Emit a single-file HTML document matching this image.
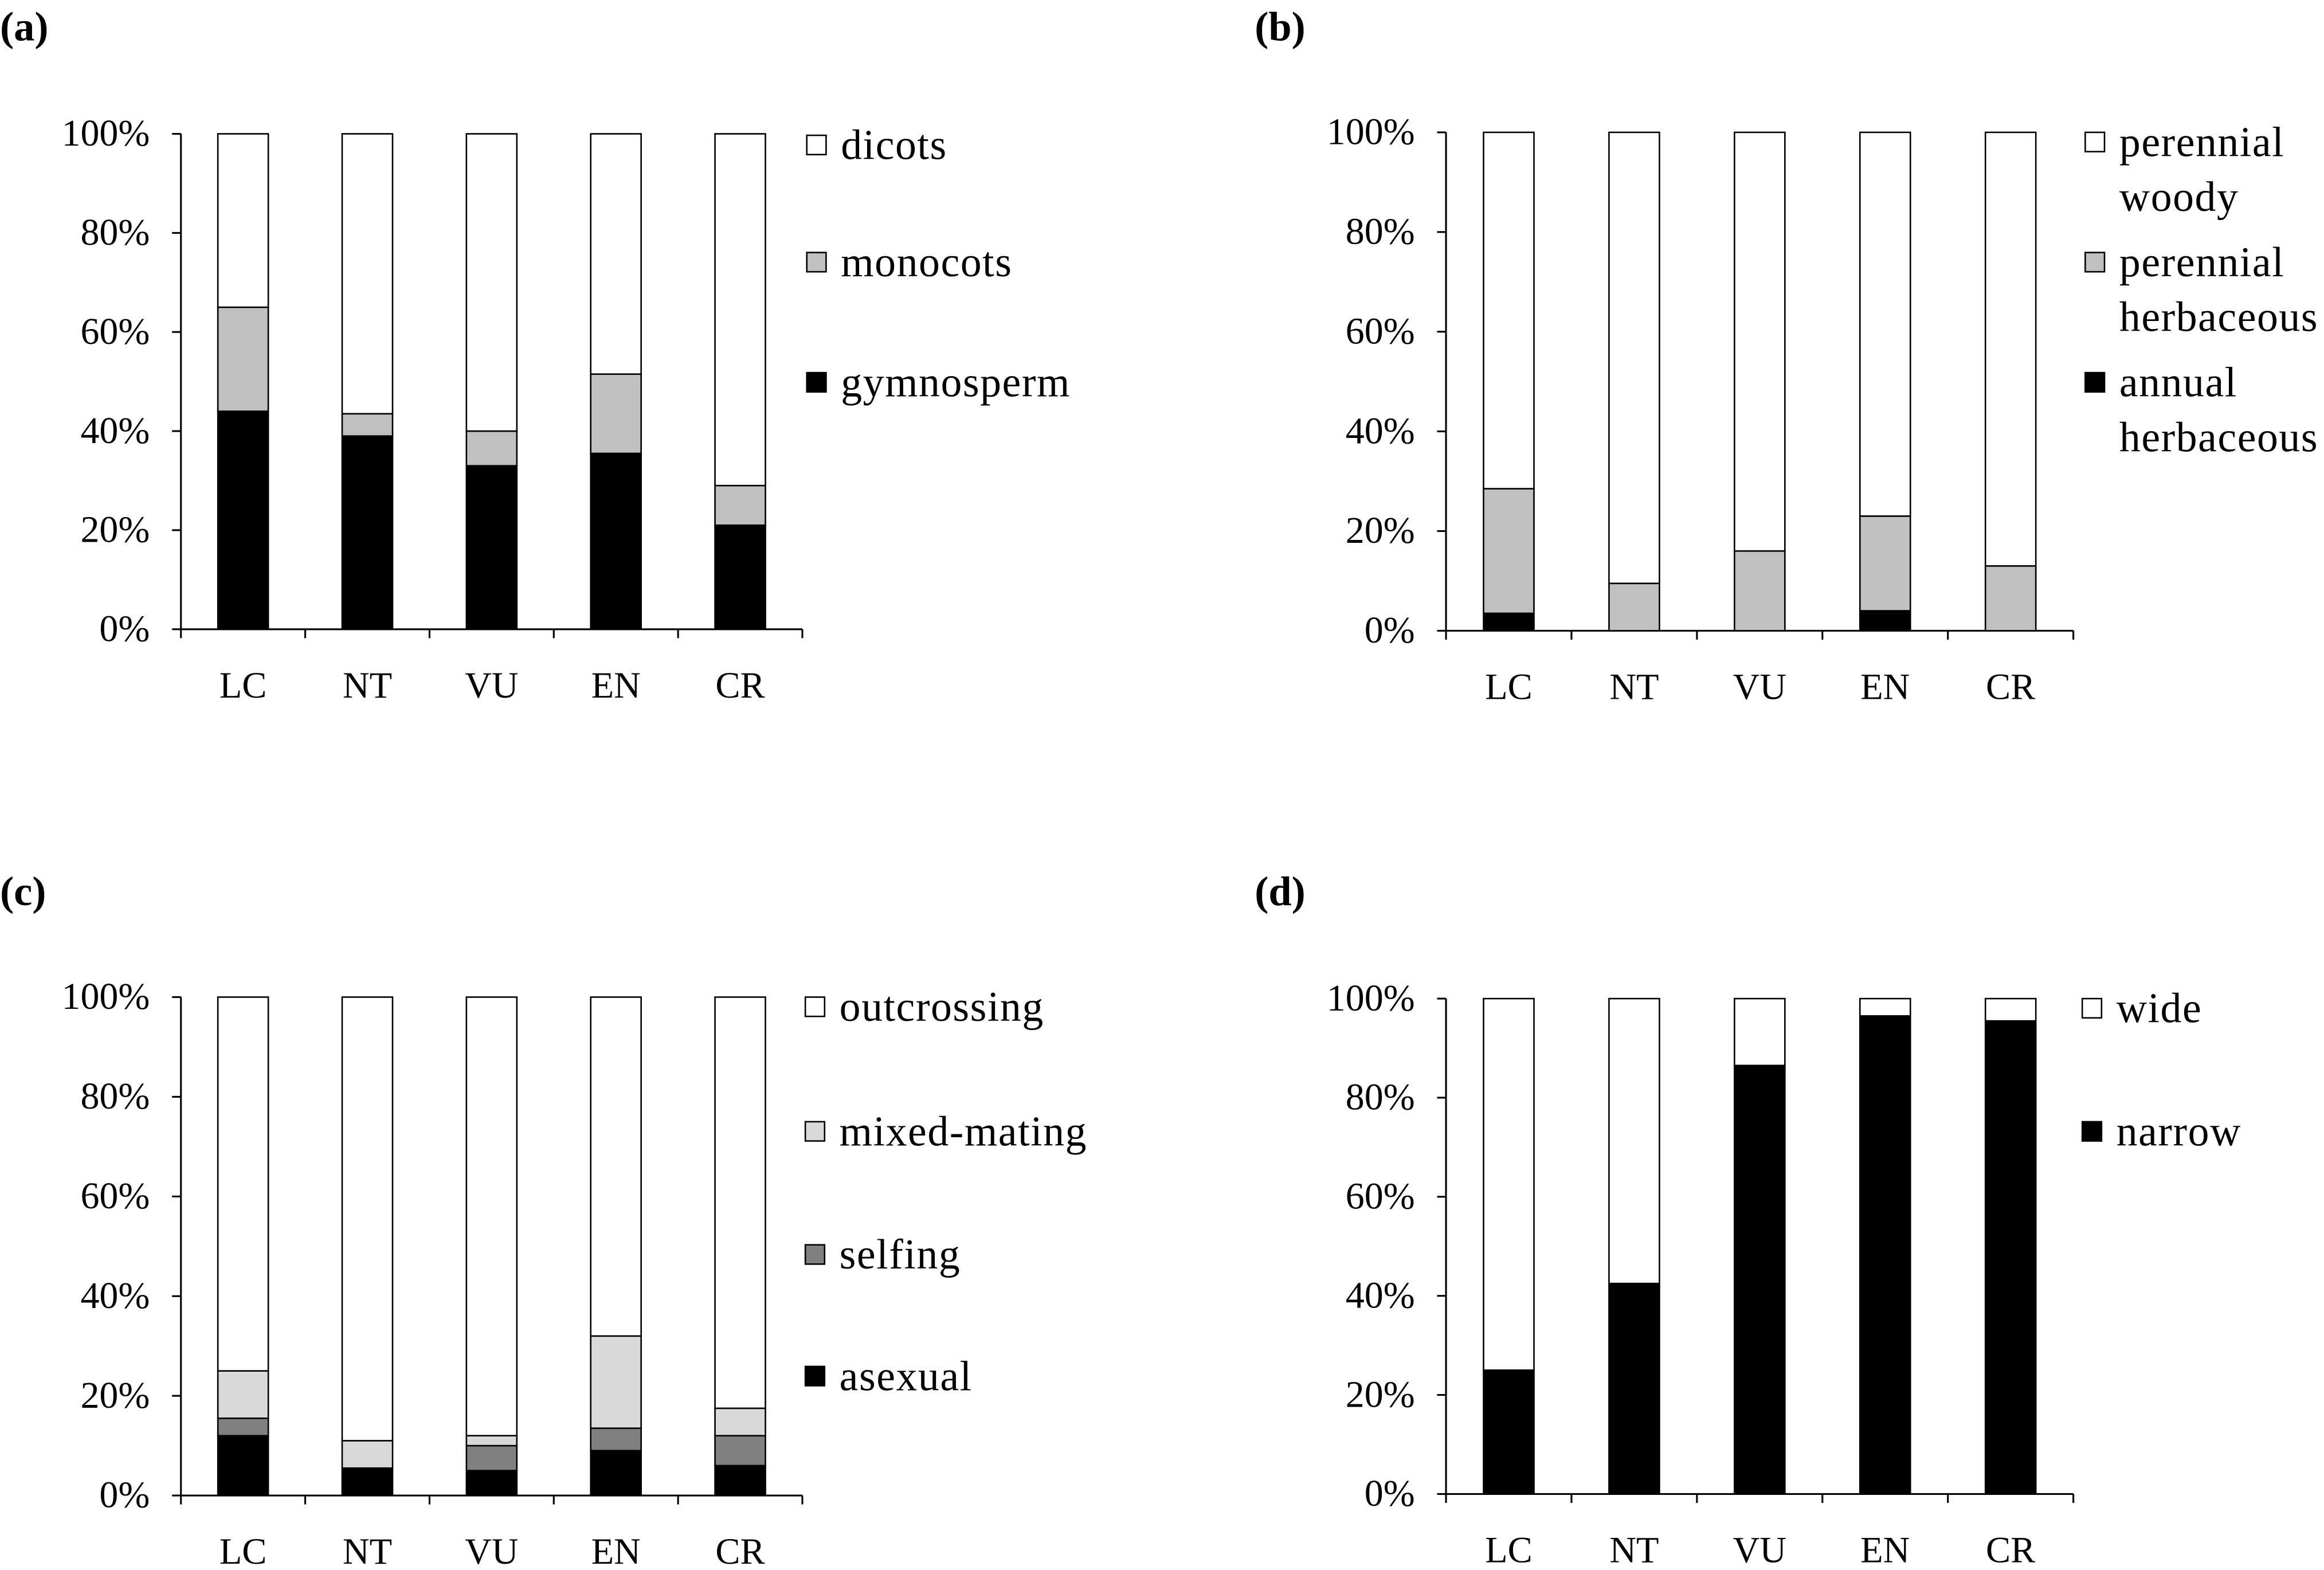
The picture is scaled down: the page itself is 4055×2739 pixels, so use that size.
<!DOCTYPE html>
<html><head><meta charset="utf-8"><style>
html,body{margin:0;padding:0;background:#fff}
svg{display:block}
text{font-family:"Liberation Serif",serif;fill:#000}
</style></head><body>
<svg id="chart" width="4055" height="2739" viewBox="0 0 1567 1058" xmlns="http://www.w3.org/2000/svg"></svg>
<script>
const categories = ["LC","NT","VU","EN","CR"];
const ticks = ["0%","20%","40%","60%","80%","100%"];
// panel a (bottom to top): gymnosperm, monocots
const aGymno = [44, 39, 33, 35.5, 21];
const aMono = [21, 4.5, 7, 16, 8];
// panel b: annual herbaceous, perennial herbaceous
const bAnnual = [3.5, 0, 0, 4, 0];
const bPerHerb = [25, 9.5, 16, 19, 13];
// panel c: asexual, selfing, mixed-mating
const cAsexual = [12, 5.5, 5, 9, 6];
const cSelfing = [3.5, 0, 5, 4.5, 6];
const cMixed = [9.5, 5.5, 2, 18.5, 5.5];
// panel d: narrow
const dNarrow = [25, 42.5, 86.5, 96.5, 95.5];

const svg = document.getElementById('chart');
const NS = "http://www.w3.org/2000/svg";
function mk(tag, attrs, parent){
  const e = document.createElementNS(NS, tag);
  for (const k in attrs) e.setAttribute(k, attrs[k]);
  (parent||svg).appendChild(e);
  return e;
}
function panel(p){
  const g = mk('g', {});
  
  
  const x0 = p.x0, y0 = p.y0, y100 = p.y100, x1 = x0 + p.w;
  const ys = v => y0 - (y0 - y100) * v / 100;
  const step = (x1 - x0) / categories.length;
  const lbl = mk('text', {x: p.lx, y: p.ly, 'font-size': 28, 'font-weight': 'bold'}, g);
  lbl.textContent = '(' + p.id + ')';
  
  
  const ya = mk('line', {x1: x0, y1: y100, x2: x0, y2: y0, stroke: '#000', 'stroke-width': 1.2}, g);
  
  
  const xa = mk('line', {x1: x0, y1: y0, x2: x1, y2: y0, stroke: '#000', 'stroke-width': 1.2}, g);
  
  
  ticks.forEach((t, i) => {
    const y = ys(i * 20);
    mk('line', {x1: x0 - 6, y1: y, x2: x0, y2: y, stroke: '#000', 'stroke-width': 1.2}, g);
    const tx = mk('text', {x: x0 - 21, y: y + 8, 'font-size': 25.5, 'text-anchor': 'end'}, g);
    tx.textContent = t;
    
    
  });
  for (let i = 0; i <= categories.length; i++) {
    const x = x0 + step * i;
    mk('line', {x1: x, y1: y0, x2: x, y2: y0 + 6, stroke: '#000', 'stroke-width': 1.2}, g);
  }
  categories.forEach((c, i) => {
    const cx = x0 + step * (i + 0.5);
    const tx = mk('text', {x: cx, y: y0 + 46, 'font-size': 25, 'text-anchor': 'middle'}, g);
    tx.textContent = c;
    
    
    let acc = 0;
    p.series.forEach(s => {
      const v = s.vals[i];
      if (v > 0) {
        const r = mk('rect', {x: cx - 17, y: ys(acc + v), width: 34, height: ys(acc) - ys(acc + v), fill: s.color, stroke: '#000', 'stroke-width': 1}, g);
        
        
      }
      acc += v;
    });
    const top = mk('rect', {x: cx - 17, y: ys(100), width: 34, height: ys(acc) - ys(100), fill: '#fff', stroke: '#000', 'stroke-width': 1}, g);
    
    
  });
  p.legend.forEach(l => {
    const sq = mk('rect', {x: p.legX, y: l.y, width: 13, height: 13, fill: l.color, stroke: '#000', 'stroke-width': 1}, g);
    
    
    l.lines.forEach((ln, j) => {
      const tx = mk('text', {x: p.legX + 23, y: l.y + 16 + j * 37, 'font-size': 28.5, 'letter-spacing': 0.6}, g);
      tx.textContent = ln;
      
      
    });
  });
}
panel({id:'a', lx:0, ly:27, x0:122, y0:424, y100:90, w:419, topKey:'dicots',
  series:[{key:'gymnosperm', vals:aGymno, color:'#000'},{key:'monocots', vals:aMono, color:'#c0c0c0'}],
  legX:544, legend:[{y:91,color:'#fff',lines:['dicots']},{y:170,color:'#c0c0c0',lines:['monocots']},{y:251,color:'#000',lines:['gymnosperm']}]});
panel({id:'b', lx:846, ly:27, x0:975, y0:425, y100:89, w:423, topKey:'perennial-woody',
  series:[{key:'annual-herbaceous', vals:bAnnual, color:'#000'},{key:'perennial-herbaceous', vals:bPerHerb, color:'#c0c0c0'}],
  legX:1406, legend:[{y:89,color:'#fff',lines:['perennial','woody']},{y:170,color:'#c0c0c0',lines:['perennial','herbaceous']},{y:251,color:'#000',lines:['annual','herbaceous']}]});
panel({id:'c', lx:0, ly:610, x0:122, y0:1008, y100:672, w:419, topKey:'outcrossing',
  series:[{key:'asexual', vals:cAsexual, color:'#000'},{key:'selfing', vals:cSelfing, color:'#808080'},{key:'mixed-mating', vals:cMixed, color:'#d9d9d9'}],
  legX:543, legend:[{y:672,color:'#fff',lines:['outcrossing']},{y:756,color:'#d9d9d9',lines:['mixed-mating']},{y:839,color:'#808080',lines:['selfing']},{y:921,color:'#000',lines:['asexual']}]});
panel({id:'d', lx:846, ly:610, x0:975, y0:1007, y100:673, w:423, topKey:'wide',
  series:[{key:'narrow', vals:dNarrow, color:'#000'}],
  legX:1404, legend:[{y:673,color:'#fff',lines:['wide']},{y:756,color:'#000',lines:['narrow']}]});
</script>
</body></html>
